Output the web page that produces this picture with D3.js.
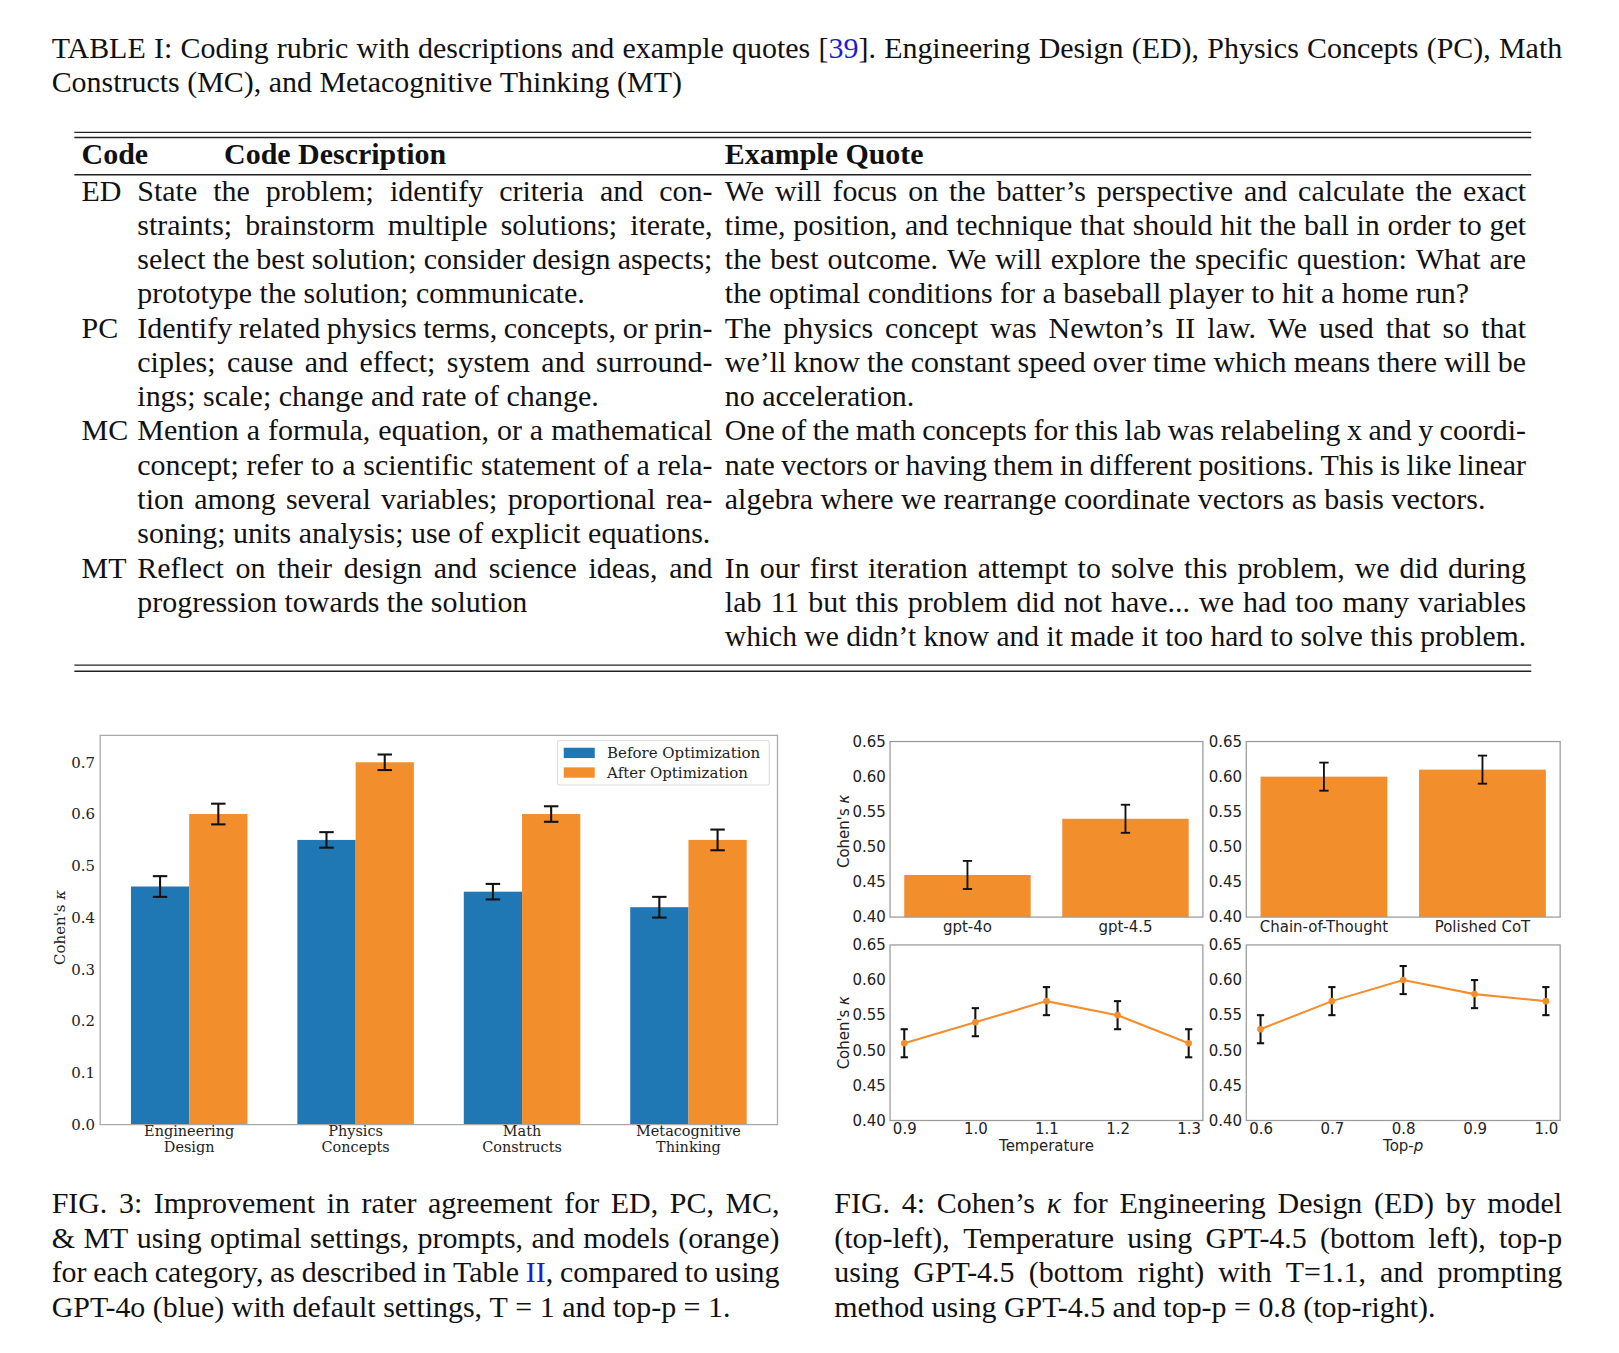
<!DOCTYPE html>
<html>
<head>
<meta charset="utf-8">
<script src="https://cdn.jsdelivr.net/npm/d3@7"></script>
<style>
  body { margin: 0; background: #fff; }
  svg { display: block; }
</style>
</head>
<body>
<svg id="page" width="1619" height="1353" viewBox="0 0 1568 1310"></svg>
<script>
// ---- data ----
const titleLines = [
  "TABLE I: Coding rubric with descriptions and example quotes [{39}]. Engineering Design (ED), Physics Concepts (PC), Math",
  "Constructs (MC), and Metacognitive Thinking (MT)"
];
const tableHeader = ["Code", "Code Description", "Example Quote"];
const tableCodes = ["ED", "PC", "MC", "MT"];
const tableDescriptions = [
  ["State the problem; identify criteria and con-",
   "straints; brainstorm multiple solutions; iterate,",
   "select the best solution; consider design aspects;",
   "prototype the solution; communicate."],
  ["Identify related physics terms, concepts, or prin-",
   "ciples; cause and effect; system and surround-",
   "ings; scale; change and rate of change."],
  ["Mention a formula, equation, or a mathematical",
   "concept; refer to a scientific statement of a rela-",
   "tion among several variables; proportional rea-",
   "soning; units analysis; use of explicit equations."],
  ["Reflect on their design and science ideas, and",
   "progression towards the solution"]
];
const tableQuotes = [
  ["We will focus on the batter’s perspective and calculate the exact",
   "time, position, and technique that should hit the ball in order to get",
   "the best outcome. We will explore the specific question: What are",
   "the optimal conditions for a baseball player to hit a home run?"],
  ["The physics concept was Newton’s II law. We used that so that",
   "we’ll know the constant speed over time which means there will be",
   "no acceleration."],
  ["One of the math concepts for this lab was relabeling x and y coordi-",
   "nate vectors or having them in different positions. This is like linear",
   "algebra where we rearrange coordinate vectors as basis vectors."],
  ["In our first iteration attempt to solve this problem, we did during",
   "lab 11 but this problem did not have... we had too many variables",
   "which we didn’t know and it made it too hard to solve this problem."]
];
const fig3Caption = [
  "FIG. 3: Improvement in rater agreement for ED, PC, MC,",
  "& MT using optimal settings, prompts, and models (orange)",
  "for each category, as described in Table {II}, compared to using",
  "GPT-4o (blue) with default settings, T = 1 and top-p = 1."
];
const fig4Caption = [
  "FIG. 4: Cohen’s _κ_ for Engineering Design (ED) by model",
  "(top-left), Temperature using GPT-4.5 (bottom left), top-p",
  "using GPT-4.5 (bottom right) with T=1.1, and prompting",
  "method using GPT-4.5 and top-p = 0.8 (top-right)."
];

const categories = [["Engineering", "Design"], ["Physics", "Concepts"], ["Math", "Constructs"], ["Metacognitive", "Thinking"]];
const beforeValues = [0.46, 0.55, 0.45, 0.42];
const beforeErrors = [0.02, 0.015, 0.015, 0.02];
const afterValues = [0.60, 0.70, 0.60, 0.55];
const afterErrors = [0.02, 0.015, 0.015, 0.02];
const fig3Ticks = [0, 0.1, 0.2, 0.3, 0.4, 0.5, 0.6, 0.7];

const modelNames = ["gpt-4o", "gpt-4.5"];
const modelValues = [0.46, 0.54];
const modelErrors = [0.02, 0.02];
const promptNames = ["Chain-of-Thought", "Polished CoT"];
const promptValues = [0.60, 0.61];
const promptErrors = [0.02, 0.02];
const temperatures = [0.9, 1.0, 1.1, 1.2, 1.3];
const temperatureValues = [0.51, 0.54, 0.57, 0.55, 0.51];
const temperatureErrors = [0.02, 0.02, 0.02, 0.02, 0.02];
const topPs = [0.6, 0.7, 0.8, 0.9, 1.0];
const topPValues = [0.53, 0.57, 0.60, 0.58, 0.57];
const topPErrors = [0.02, 0.02, 0.02, 0.02, 0.02];
const fig4Ticks = [0.40, 0.45, 0.50, 0.55, 0.60, 0.65];

// ---- styles ----
const serif = "'Liberation Serif', 'Times New Roman', serif";
const plotSerif = "'DejaVu Serif', serif";
const plotSans = "'DejaVu Sans', sans-serif";
const bodySize = 29;
const ink = "#111";
const linkBlue = "#1c1cd6";
const blue = "#1f77b4";
const orange = "#f28e2b";
const plotText = "#222";

const svg = d3.select("#page");

// split a word into styled pieces: {blue} and _italic_
const segments = (word) => {
  const out = [];
  word.replace(/\{([^}]*)\}|_([^_]*)_|([^{_]+)/g, (m, b, it, plain) => {
    if (b !== undefined) out.push({ text: b, fill: linkBlue });
    else if (it !== undefined) out.push({ text: it, italic: true });
    else out.push({ text: plain });
    return m;
  });
  return out;
};

// one line of running text, justified to width when asked
const drawLine = (parent, str, x0, y, width, justify, opts = {}) => {
  const size = opts.size ?? bodySize;
  const g = parent.append("g").attr("transform", `translate(${x0},${y})`);
  const words = str.split(" ");
  const nodes = words.map((w) => {
    const t = g.append("text")
      .style("font-family", serif)
      .attr("font-size", size)
      .attr("font-weight", opts.bold ? "bold" : null)
      .attr("fill", ink);
    segments(w).forEach((s) => {
      t.append("tspan")
        .attr("fill", s.fill ?? null)
        .attr("font-style", s.italic ? "italic" : null)
        .text(s.text);
    });
    return t;
  });
  const widths = nodes.map((t) => t.node().getComputedTextLength());
  const space = size * 0.25;
  const total = d3.sum(widths);
  const n = words.length;
  let gap = space;
  let k = 1;
  if (justify && n > 1) {
    gap = (width - total) / (n - 1);
    if (gap < space * 0.7) {
      gap = space * 0.7;
      k = width / (total + gap * (n - 1));
    }
  } else if (width && total + space * (n - 1) > width) {
    k = width / (total + space * (n - 1));
  }
  let x = 0;
  nodes.forEach((t, i) => {
    t.attr("x", x);
    x += widths[i] + gap;
  });
  if (k !== 1) g.attr("transform", `translate(${x0},${y}) scale(${k},1)`);
};

const paragraph = (parent, lines, x0, firstBaseline, width, leading) => {
  lines.forEach((line, i) => {
    drawLine(parent, line, x0, firstBaseline + i * leading, width, i < lines.length - 1);
  });
};

// ---- table ----
const textLayer = svg.append("g");
paragraph(textLayer, titleLines, 50, 56, 1463, 33);

const rules = textLayer.append("g").attr("stroke", "#222").attr("stroke-width", 1.4);
[128, 133, 169, 644, 650].forEach((yy) => {
  rules.append("line").attr("x1", 72).attr("x2", 1483).attr("y1", yy).attr("y2", yy);
});

drawLine(textLayer, tableHeader[0], 79, 159, 0, false, { bold: true });
drawLine(textLayer, tableHeader[1], 217, 159, 0, false, { bold: true });
drawLine(textLayer, tableHeader[2], 702, 159, 0, false, { bold: true });

const rowLeading = 33.2;
let lineIndex = 0;
tableCodes.forEach((code, r) => {
  const base = 194 + lineIndex * rowLeading;
  drawLine(textLayer, code, 79, base, 0, false);
  paragraph(textLayer, tableDescriptions[r], 133, base, 557, rowLeading);
  paragraph(textLayer, tableQuotes[r], 702, base, 776, rowLeading);
  lineIndex += Math.max(tableDescriptions[r].length, tableQuotes[r].length);
});

// ---- captions ----
paragraph(textLayer, fig3Caption, 50, 1175, 705, 33.4);
paragraph(textLayer, fig4Caption, 808, 1175, 705, 33.4);

// ---- FIG 3 ----
const fig3 = svg.append("g");
const x3 = d3.scaleLinear().domain([-0.535, 3.535]).range([97, 753]);
const y3 = d3.scaleLinear().domain([0, 0.752]).range([1089, 712]);
const barW = 0.35;
const series3 = [
  { name: "Before Optimization", values: beforeValues, errors: beforeErrors, color: blue, offset: -barW / 2 },
  { name: "After Optimization", values: afterValues, errors: afterErrors, color: orange, offset: barW / 2 }
];

const errorBars = (g, xs, ys, errs, xScale, yScale, cap, width) => {
  const eg = g.append("g").attr("stroke", "#111").attr("stroke-width", width);
  xs.forEach((xv, i) => {
    const cx = xScale(xv);
    const lo = yScale(ys[i] - errs[i]);
    const hi = yScale(ys[i] + errs[i]);
    eg.append("line").attr("x1", cx).attr("x2", cx).attr("y1", lo).attr("y2", hi);
    eg.append("line").attr("x1", cx - cap).attr("x2", cx + cap).attr("y1", lo).attr("y2", lo);
    eg.append("line").attr("x1", cx - cap).attr("x2", cx + cap).attr("y1", hi).attr("y2", hi);
  });
};

series3.forEach((s) => {
  fig3.append("g")
    .selectAll("rect")
    .data(s.values)
    .join("rect")
    .attr("x", (d, i) => x3(i + s.offset - barW / 2))
    .attr("width", x3(barW) - x3(0))
    .attr("y", (d) => y3(d))
    .attr("height", (d) => y3(0) - y3(d))
    .attr("fill", s.color);
  errorBars(fig3, s.values.map((d, i) => i + s.offset), s.values, s.errors, x3, y3, 7, 2);
});

fig3.append("rect")
  .attr("x", 97).attr("y", 712).attr("width", 656).attr("height", 377)
  .attr("fill", "none").attr("stroke", "#a8a8a8").attr("stroke-width", 1.2);

const yAxis3 = fig3.append("g")
  .attr("transform", "translate(97,0)")
  .call(d3.axisLeft(y3).tickValues(fig3Ticks).tickSize(0).tickPadding(5).tickFormat(d3.format(".1f")));
yAxis3.select(".domain").remove();
yAxis3.selectAll("text").style("font-family", plotSerif).attr("font-size", 14.5).attr("fill", plotText);

const xLabels3 = fig3.append("g")
  .style("font-family", plotSerif).attr("font-size", 14).attr("fill", plotText).attr("text-anchor", "middle");
categories.forEach((lines, i) => {
  lines.forEach((ln, j) => {
    xLabels3.append("text").attr("x", x3(i)).attr("y", 1100 + j * 16).text(ln);
  });
});

const yTitle3 = fig3.append("text")
  .attr("transform", "translate(63,898) rotate(-90)")
  .attr("text-anchor", "middle")
  .style("font-family", plotSerif).attr("font-size", 14.5).attr("fill", plotText);
yTitle3.append("tspan").text("Cohen's ");
yTitle3.append("tspan").attr("font-style", "italic").text("κ");

const legend = fig3.append("g").attr("transform", "translate(540,717)");
legend.append("rect").attr("width", 205).attr("height", 43).attr("rx", 2)
  .attr("fill", "#fff").attr("stroke", "#ddd");
series3.forEach((s, i) => {
  legend.append("rect").attr("x", 6).attr("y", 7 + i * 19).attr("width", 30).attr("height", 10).attr("fill", s.color);
  legend.append("text").attr("x", 48).attr("y", 12 + i * 19).attr("dy", "0.35em")
    .style("font-family", plotSerif).attr("font-size", 14.5).attr("fill", plotText).text(s.name);
});

// ---- FIG 4 ----
const fig4 = svg.append("g");
const y4Top = d3.scaleLinear().domain([0.40, 0.65]).range([888, 718]);
const y4Bottom = d3.scaleLinear().domain([0.40, 0.65]).range([1085, 915]);

const panelFrame = (g, xs, ys) => {
  const [xa, xb] = xs.range();
  const [yb, ya] = ys.range();
  const ax = g.append("g")
    .attr("transform", `translate(${xa},0)`)
    .call(d3.axisLeft(ys).tickValues(fig4Ticks).tickSize(0).tickPadding(4).tickFormat(d3.format(".2f")));
  ax.select(".domain").remove();
  ax.selectAll("text").style("font-family", plotSans).attr("font-size", 14.5).attr("fill", plotText);
  g.append("rect").attr("x", xa).attr("y", ya).attr("width", xb - xa).attr("height", yb - ya)
    .attr("fill", "none").attr("stroke", "#999").attr("stroke-width", 1.2);
};

const barPanel = (left, right, names, values, errors) => {
  const g = fig4.append("g");
  const xs = d3.scaleLinear().domain([-0.49, 1.49]).range([left, right]);
  g.selectAll("rect.bar").data(values).join("rect").attr("class", "bar")
    .attr("x", (d, i) => xs(i - 0.4))
    .attr("width", xs(0.8) - xs(0))
    .attr("y", (d) => y4Top(d))
    .attr("height", (d) => y4Top(0.40) - y4Top(d))
    .attr("fill", orange);
  errorBars(g, values.map((d, i) => i), values, errors, xs, y4Top, 4.5, 1.8);
  panelFrame(g, xs, y4Top);
  g.selectAll("text.cat").data(names).join("text").attr("class", "cat")
    .attr("x", (d, i) => xs(i)).attr("y", 902)
    .attr("text-anchor", "middle").style("font-family", plotSans).attr("font-size", 14.5).attr("fill", plotText)
    .text((d) => d);
};

const linePanel = (left, right, xvals, values, errors, title, italicTail) => {
  const g = fig4.append("g");
  const pad = (xvals[xvals.length - 1] - xvals[0]) * 0.05;
  const xs = d3.scaleLinear().domain([xvals[0] - pad, xvals[xvals.length - 1] + pad]).range([left, right]);
  const pts = xvals.map((xv, i) => [xv, values[i]]);
  g.append("path")
    .attr("d", d3.line().x((d) => xs(d[0])).y((d) => y4Bottom(d[1]))(pts))
    .attr("fill", "none").attr("stroke", orange).attr("stroke-width", 2);
  errorBars(g, xvals, values, errors, xs, y4Bottom, 3.5, 2);
  g.selectAll("circle").data(pts).join("circle")
    .attr("cx", (d) => xs(d[0])).attr("cy", (d) => y4Bottom(d[1])).attr("r", 3.2).attr("fill", orange);
  panelFrame(g, xs, y4Bottom);
  const ax = g.append("g")
    .attr("transform", "translate(0,1085)")
    .call(d3.axisBottom(xs).tickValues(xvals).tickSize(0).tickPadding(3).tickFormat(d3.format(".1f")));
  ax.select(".domain").remove();
  ax.selectAll("text").style("font-family", plotSans).attr("font-size", 14.5).attr("fill", plotText);
  const t = g.append("text").attr("x", (left + right) / 2).attr("y", 1115)
    .attr("text-anchor", "middle").style("font-family", plotSans).attr("font-size", 14.5).attr("fill", plotText);
  t.append("tspan").text(title);
  if (italicTail) t.append("tspan").attr("font-style", "italic").text(italicTail);
};

barPanel(862, 1165, modelNames, modelValues, modelErrors);
barPanel(1207, 1511, promptNames, promptValues, promptErrors);
linePanel(862, 1165, temperatures, temperatureValues, temperatureErrors, "Temperature", null);
linePanel(1207, 1511, topPs, topPValues, topPErrors, "Top-", "p");

[805, 1000].forEach((cy) => {
  const t = fig4.append("text")
    .attr("transform", `translate(822,${cy}) rotate(-90)`)
    .attr("text-anchor", "middle")
    .style("font-family", plotSans).attr("font-size", 14.5).attr("fill", plotText);
  t.append("tspan").text("Cohen's ");
  t.append("tspan").attr("font-style", "italic").text("κ");
});
</script>
</body>
</html>
